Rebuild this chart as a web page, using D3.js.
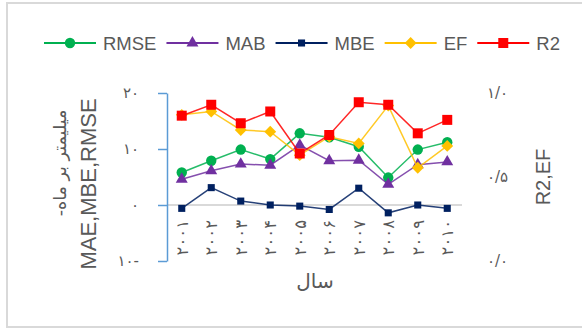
<!DOCTYPE html>
<html><head><meta charset="utf-8">
<script src="https://cdn.jsdelivr.net/npm/d3@7"></script>
<style>
html,body{margin:0;padding:0;background:#fff;}
svg{display:block;}
</style>
</head><body>
<svg id="c" width="582" height="329"></svg>
<script>
// ---- data ----
const years = ["2001","2002","2003","2004","2005","2006","2007","2008","2009","2010"];
const yearLabels = ["۲۰۰۱","۲۰۰۲","۲۰۰۳","۲۰۰۴","۲۰۰۵","۲۰۰۶","۲۰۰۷","۲۰۰۸","۲۰۰۹","۲۰۱۰"];
const rmse = [5.8, 7.9, 9.9, 8.2, 12.8, 12.1, 10.4, 4.9, 9.9, 11.2];
const mab  = [4.6, 6.1, 7.3, 7.1, 10.7, 7.9, 8.0, 3.7, 7.2, 7.7];
const mbe  = [-0.6, 3.1, 0.7, 0.0, -0.2, -0.8, 3.0, -1.4, 0.0, -0.6];
const ef   = [0.87, 0.89, 0.78, 0.77, 0.63, 0.74, 0.70, 0.925, 0.555, 0.685];
const r2   = [0.865, 0.93, 0.82, 0.89, 0.64, 0.75, 0.945, 0.93, 0.76, 0.84];
const leftTicks = [-10, 0, 10, 20];
const leftTickLabels = ["۱۰-", "۰", "۱۰", "۲۰"];
const rightTicks = [0, 0.5, 1];
const rightTickLabels = ["۰/۰", "۰/۵", "۱/۰"];
const seriesNames = ["RMSE","MAB","MBE","EF","R2"];

const svg = d3.select("#c");
const font = "'Liberation Sans', Arial, sans-serif";
const faFont = "'DejaVu Sans', sans-serif";
const txt = "#595959";

// frame
svg.append("rect").attr("x",7).attr("y",3).attr("width",590).attr("height",324)
  .attr("fill","none").attr("stroke","#d9d9d9").attr("stroke-width",2);

const x = d3.scaleBand().domain(years).range([167, 462]);
const yL = d3.scaleLinear().domain([-10, 20]).range([261, 93]);
const yR = d3.scaleLinear().domain([0, 1]).range([261, 93]);
const cx = d => x(d) + x.bandwidth()/2;

// zero line
svg.append("line").attr("x1", x.range()[0]).attr("x2", x.range()[1])
  .attr("y1", yL(0)).attr("y2", yL(0)).attr("stroke","#d9d9d9").attr("stroke-width",2);

// left axis
const gL = svg.append("g").attr("transform",`translate(${x.range()[0]},0)`)
  .call(d3.axisLeft(yL).tickValues(leftTicks).tickSize(9).tickSizeOuter(0)
    .tickFormat((d,i)=>leftTickLabels[i]));
gL.select(".domain").attr("stroke","#5b9bd5").attr("stroke-width",1.5);
gL.selectAll(".tick line").attr("stroke","#5b9bd5").attr("stroke-width",1.5);
gL.selectAll(".tick text").attr("x",-28).attr("fill",txt).style("font-family",faFont).style("font-size","15px");

// right axis
const gR = svg.append("g").attr("transform",`translate(487,0)`)
  .call(d3.axisRight(yR).tickValues(rightTicks).tickSize(0)
    .tickFormat((d,i)=>rightTickLabels[i]));
gR.select(".domain").remove();
gR.selectAll(".tick text").attr("x",0).attr("fill",txt).style("font-family",faFont).style("font-size","15px");

// x labels
svg.append("g").selectAll("text").data(years).join("text")
  .attr("transform",(d)=>`translate(${cx(d)+6},220) rotate(-90)`)
  .attr("text-anchor","end").attr("fill",txt)
  .style("font-family",faFont).style("font-size","16.5px")
  .text((d,i)=>yearLabels[i]);

// axis titles
svg.append("text").attr("transform","translate(315,288)").attr("text-anchor","middle")
  .attr("fill",txt).style("font-family",faFont).style("font-size","20px").text("سال");
svg.append("text").attr("transform","translate(66,163) rotate(-90)").attr("text-anchor","middle")
  .attr("fill",txt).style("font-family",faFont).style("font-size","17.5px").text("-میلیمتر بر ماه");
svg.append("text").attr("transform","translate(96,184) rotate(-90)").attr("text-anchor","middle")
  .attr("fill",txt).style("font-family",font).style("font-size","22px").text("MAE,MBE,RMSE");
svg.append("text").attr("transform","translate(550,177) rotate(-90)").attr("text-anchor","middle")
  .attr("fill",txt).style("font-family",font).style("font-size","20px").text("R2,EF");

// diamond = square rotated 45deg
const diamond = { draw(ctx, size){ const r = Math.sqrt(size/2); ctx.moveTo(0,-r); ctx.lineTo(r,0); ctx.lineTo(0,r); ctx.lineTo(-r,0); ctx.closePath(); } };

// series
const series = [
  {name:seriesNames[0], vals:rmse, y:yL, color:"#00b050", sym:d3.symbolCircle, size:85},
  {name:seriesNames[1], vals:mab,  y:yL, color:"#7030a0", sym:d3.symbolTriangle, size:62},
  {name:seriesNames[2], vals:mbe,  y:yL, color:"#002060", sym:d3.symbolSquare, size:50},
  {name:seriesNames[3], vals:ef,   y:yR, color:"#ffc000", sym:diamond, size:70},
  {name:seriesNames[4], vals:r2,   y:yR, color:"#ff0000", sym:d3.symbolSquare, size:100},
];
series.forEach(s=>{
  const g = svg.append("g");
  const line = d3.line().x((d,i)=>cx(years[i])).y(d=>s.y(d));
  g.append("path").attr("d", line(s.vals)).attr("fill","none")
    .attr("stroke", s.color).attr("stroke-width",1.5).attr("stroke-opacity",0.85);
  g.selectAll("path.m").data(s.vals).join("path").attr("class","m")
    .attr("transform",(d,i)=>`translate(${cx(years[i])},${s.y(d)})`)
    .attr("d", d3.symbol().type(s.sym).size(s.size)()).attr("fill", s.color);
});

// legend
let lx = 44;
const ly = 43;
series.forEach(s=>{
  const g = svg.append("g");
  g.append("line").attr("x1",lx).attr("x2",lx+52).attr("y1",ly).attr("y2",ly)
    .attr("stroke",s.color).attr("stroke-width",2);
  g.append("path").attr("transform",`translate(${lx+26},${ly})`)
    .attr("d", d3.symbol().type(s.sym).size(s.size)()).attr("fill",s.color);
  const t = g.append("text").attr("x",lx+59).attr("y",ly+6.5).attr("fill",txt)
    .style("font-family",font).style("font-size","18.5px").text(s.name);
  lx = lx + 59 + t.node().getComputedTextLength() + 10;
});
</script>
</body></html>
